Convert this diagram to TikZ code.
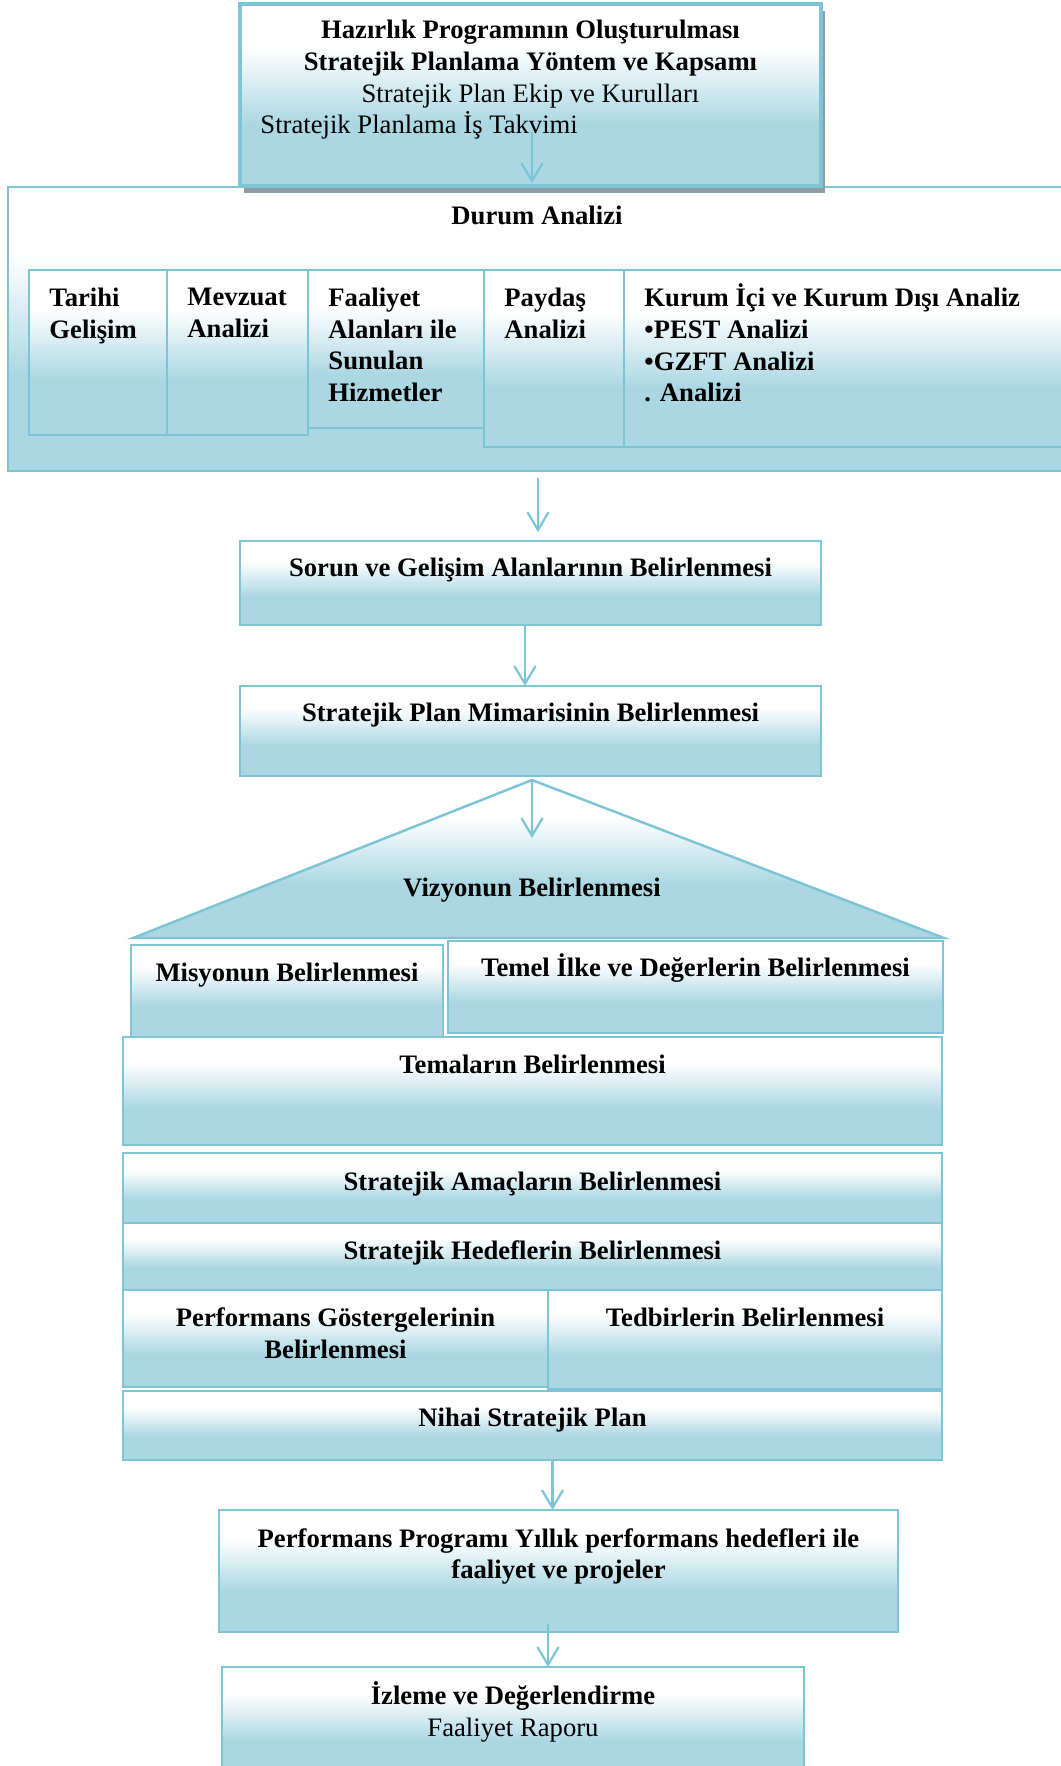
\documentclass[tikz,border=0pt]{standalone}
\usepackage{fontspec}
\setmainfont{Liberation Serif}
\usetikzlibrary{positioning,fit,arrows.meta,shadows}

\definecolor{kutumavi}{RGB}{171,215,227}
\definecolor{kenarmavi}{RGB}{125,196,213}
\definecolor{golgegri}{RGB}{142,157,165}

\newcommand\boyut{\fontsize{12}{14.3}\selectfont}

\pgfdeclareverticalshading{kutu}{100bp}{color(0bp)=(kutumavi); color(42bp)=(kutumavi); color(63bp)=(white); color(100bp)=(white)}

\begin{document}
\begin{tikzpicture}[x=0.45pt, y=-0.45pt, node distance=6pt,
    kutu/.style={draw=kenarmavi, line width=1.1pt, shading=kutu, inner sep=0pt, outer sep=0pt},
    yazi/.style={inner sep=0pt, align=center, font=\boyut\bfseries, execute at begin node=\strut},
    solyazi/.style={yazi, align=left},
    ok/.style={draw=kenarmavi, line width=1pt, -{Straight Barb[length=8pt, width=9.5pt]}}]

\useasboundingbox (0,0) rectangle (1061,1766);

%durum analizi
\node (durum) [kutu, fit={(8,187)(1066,471)}] {};
\node (durum-t) [yazi, below=6.5pt of durum.north] {Durum Analizi};

\node (tarihi) [kutu, fit={(29,270)(167,435)}] {};
\node (mevzuat) [kutu, fit={(167,270)(308,435)}] {};
\node (faaliyet) [kutu, fit={(308,270)(484,428)}] {};
\node (paydas) [kutu, fit={(484,270)(624,447)}] {};
\node (kurum) [kutu, fit={(624,270)(1066,447)}] {};

\node (tarihi-t) [solyazi, below right=7.8pt and 9pt of tarihi.north west] {Tarihi\\Gelişim};
\node (mevzuat-t) [solyazi, below right=7.8pt and 9pt of mevzuat.north west] {Mevzuat\\Analizi};
\node (faaliyet-t) [solyazi, below right=7.8pt and 9pt of faaliyet.north west] {Faaliyet\\Alanları ile\\Sunulan\\Hizmetler};
\node (paydas-t) [solyazi, below right=7.8pt and 9pt of paydas.north west] {Paydaş\\Analizi};
\node (kurum-t) [solyazi, below right=6pt and 9pt of kurum.north west] {Kurum İçi ve Kurum Dışı Analiz\\•PEST Analizi\\•GZFT Analizi\\. Analizi};

%hazirlik
\node (hazirlik) [kutu, line width=1.4pt, fit={(240,4)(821,186)},
    drop shadow={shadow xshift=1.8pt, shadow yshift=-3pt, fill=golgegri, opacity=1}] {};
\node (hazirlik-t) [yazi, below=7pt of hazirlik.north] {Hazırlık Programının Oluşturulması\\Stratejik Planlama Yöntem ve Kapsamı\\\mdseries Stratejik Plan Ekip ve Kurulları};
\node (takvim) [solyazi, font=\boyut\mdseries, below right=48pt and 9pt of hazirlik.north west] {Stratejik Planlama İş Takvimi};

%ara kutular
\node (sorun) [kutu, fit={(240,541)(821,625)}] {};
\node (sorun-t) [yazi, below=5.6pt of sorun.north] {Sorun ve Gelişim Alanlarının Belirlenmesi};

\node (mimari) [kutu, fit={(240,686)(821,776)}] {};
\node (mimari-t) [yazi, below=5.6pt of mimari.north] {Stratejik Plan Mimarisinin Belirlenmesi};

%vizyon ucgeni
\coordinate (tepe) at (532,780);
\coordinate (sol) at (133,938);
\coordinate (sag) at (944,938);
\path[draw=kenarmavi, line width=1.1pt, shading=kutu] (tepe) -- (sol) -- (sag) -- cycle;
\node (vizyon-t) [yazi, below=42pt of tepe] {Vizyonun Belirlenmesi};

\node (misyon) [kutu, fit={(131,945)(443,1037)}] {};
\node (misyon-t) [yazi, below=6.2pt of misyon.north] {Misyonun Belirlenmesi};
\node (temel) [kutu, fit={(448,941)(943,1033)}] {};
\node (temel-t) [yazi, below=5.7pt of temel.north] {Temel İlke ve Değerlerin Belirlenmesi};

\node (tema) [kutu, fit={(123,1037)(942,1145)}] {};
\node (tema-t) [yazi, below=6.2pt of tema.north] {Temaların Belirlenmesi};

\node (amac) [kutu, fit={(123,1153)(942,1223)}] {};
\node (amac-t) [yazi, below=6.6pt of amac.north] {Stratejik Amaçların Belirlenmesi};

\node (hedef) [kutu, fit={(123,1223)(942,1290)}] {};
\node (hedef-t) [yazi, below=6.2pt of hedef.north] {Stratejik Hedeflerin Belirlenmesi};

\node (gosterge) [kutu, fit={(123,1290)(548,1387)}] {};
\node (gosterge-t) [yazi, below=7.8pt of gosterge.north] {Performans Göstergelerinin\\Belirlenmesi};
\node (tedbir) [kutu, fit={(548,1290)(942,1389)}] {};
\node (tedbir-t) [yazi, below=6.2pt of tedbir.north] {Tedbirlerin Belirlenmesi};

\node (nihai) [kutu, fit={(123,1391)(942,1460)}] {};
\node (nihai-t) [yazi, below=5.7pt of nihai.north] {Nihai Stratejik Plan};

\node (program) [kutu, fit={(219,1510)(898,1632)}] {};
\node (program-t) [yazi, below=8pt of program.north] {Performans Programı Yıllık performans hedefleri ile\\faaliyet ve projeler};

\node (izleme) [kutu, fit={(222,1667)(804,1780)}] {};
\node (izleme-t) [yazi, below=6.4pt of izleme.north] {İzleme ve Değerlendirme\\\mdseries Faaliyet Raporu};

%oklar
\coordinate (ok1) at (532,132);
\coordinate (ok2) at (538,478);
\coordinate (ok5) at (548,1624);
\draw[ok] (ok1) -- ([yshift=1.3pt]ok1 |- hazirlik.south);
\draw[ok] (ok2) -- ([yshift=4pt]ok2 |- sorun.north);
\draw[ok] ([xshift=-2.5pt]sorun.south) -- ([xshift=-2.5pt]mimari.north);
\draw[ok] (tepe) -- ++(0,58);
\draw[ok] ([xshift=9pt]nihai.south) -- ([xshift=9pt]nihai.south |- program.north);
\draw[ok] (ok5) -- (ok5 |- izleme.north);

\end{tikzpicture}
\end{document}
